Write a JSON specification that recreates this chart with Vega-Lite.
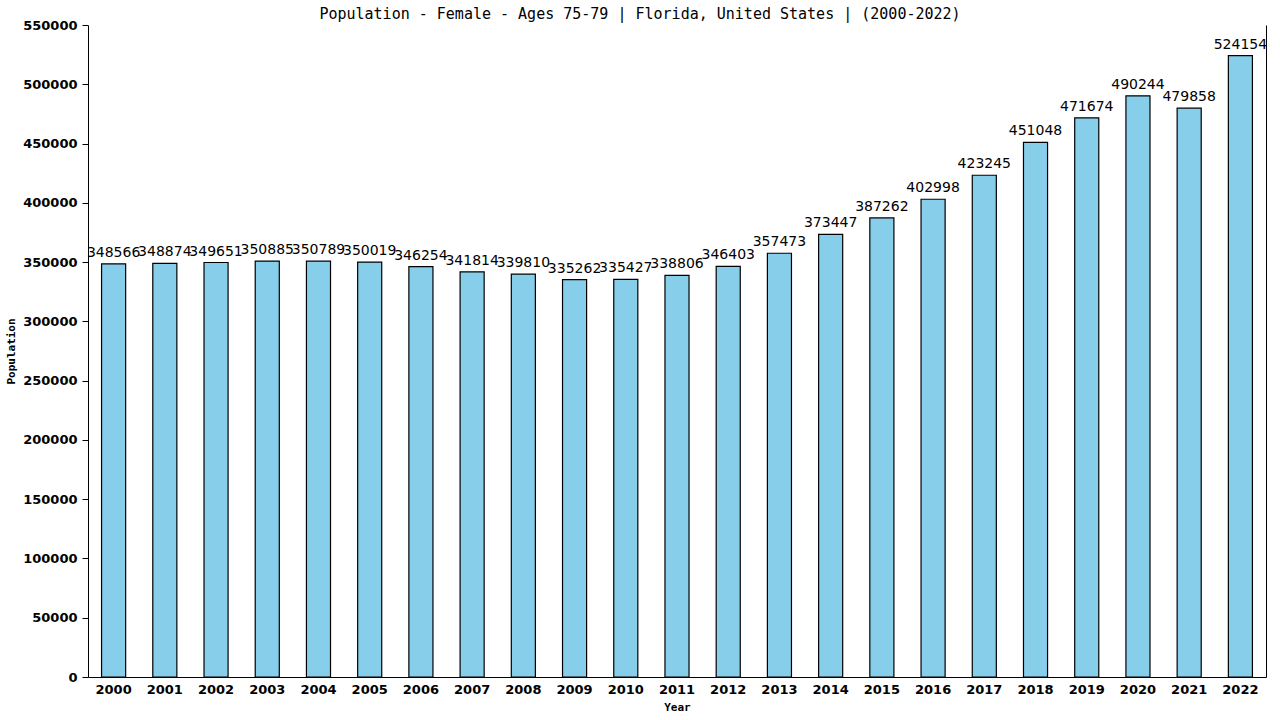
{
  "$schema": "https://vega.github.io/schema/vega-lite/v6.json",
  "autosize": {"type": "none"},
  "width": 1178,
  "height": 652,
  "padding": {"left": 88, "top": 25, "right": 14, "bottom": 43},
  "background": "white",
  "title": {
    "text": "Population - Female - Ages 75-79 | Florida, United States |  (2000-2022)",
    "font": "DejaVu Sans Mono",
    "fontSize": 15,
    "fontWeight": "normal",
    "color": "black",
    "offset": 5,
    "dx": -37,
    "dy": 8
  },
  "data": {
    "values": [
      {"Year": "2000", "Population": 348566},
      {"Year": "2001", "Population": 348874},
      {"Year": "2002", "Population": 349651},
      {"Year": "2003", "Population": 350885},
      {"Year": "2004", "Population": 350789},
      {"Year": "2005", "Population": 350019},
      {"Year": "2006", "Population": 346254},
      {"Year": "2007", "Population": 341814},
      {"Year": "2008", "Population": 339810},
      {"Year": "2009", "Population": 335262},
      {"Year": "2010", "Population": 335427},
      {"Year": "2011", "Population": 338806},
      {"Year": "2012", "Population": 346403},
      {"Year": "2013", "Population": 357473},
      {"Year": "2014", "Population": 373447},
      {"Year": "2015", "Population": 387262},
      {"Year": "2016", "Population": 402998},
      {"Year": "2017", "Population": 423245},
      {"Year": "2018", "Population": 451048},
      {"Year": "2019", "Population": 471674},
      {"Year": "2020", "Population": 490244},
      {"Year": "2021", "Population": 479858},
      {"Year": "2022", "Population": 524154}
    ]
  },
  "encoding": {
    "x": {
      "field": "Year",
      "type": "nominal",
      "scale": {"paddingInner": 0.53, "paddingOuter": 0.265},
      "axis": {
        "title": "Year",
        "titleFont": "DejaVu Sans Mono",
        "titleFontSize": 11,
        "titleFontWeight": "bold",
        "titlePadding": 5,
        "labelAngle": 0,
        "labelFont": "DejaVu Sans",
        "labelFontSize": 13,
        "labelFontWeight": "bold",
        "labelColor": "black",
        "labelPadding": 6,
        "ticks": false,
        "domainColor": "black",
        "grid": false
      }
    },
    "y": {
      "field": "Population",
      "type": "quantitative",
      "scale": {"domain": [0, 550000], "nice": false},
      "axis": {
        "title": "Population",
        "titleFont": "DejaVu Sans Mono",
        "titleFontSize": 11,
        "titleFontWeight": "bold",
        "titlePadding": 6,
        "values": [0, 50000, 100000, 150000, 200000, 250000, 300000, 350000, 400000, 450000, 500000, 550000],
        "format": "d",
        "labelFont": "DejaVu Sans",
        "labelFontSize": 13,
        "labelFontWeight": "bold",
        "labelColor": "black",
        "labelPadding": 5,
        "tickColor": "black",
        "tickSize": 6,
        "domainColor": "black",
        "grid": false
      }
    }
  },
  "layer": [
    {
      "mark": {"type": "bar", "fill": "#87CEEB", "stroke": "black", "strokeWidth": 1.2}
    },
    {
      "mark": {
        "type": "text",
        "baseline": "bottom",
        "dy": -4,
        "font": "DejaVu Sans",
        "fontSize": 14,
        "color": "black"
      },
      "encoding": {
        "text": {"field": "Population", "type": "quantitative", "format": "d"},
        "y": {
          "field": "Population",
          "type": "quantitative",
          "axis": {
            "orient": "right",
            "labels": false,
            "ticks": false,
            "title": null,
            "grid": false,
            "domainColor": "black"
          }
        }
      }
    }
  ],
  "resolve": {"axis": {"y": "independent"}},
  "config": {"view": {"stroke": null}}
}
